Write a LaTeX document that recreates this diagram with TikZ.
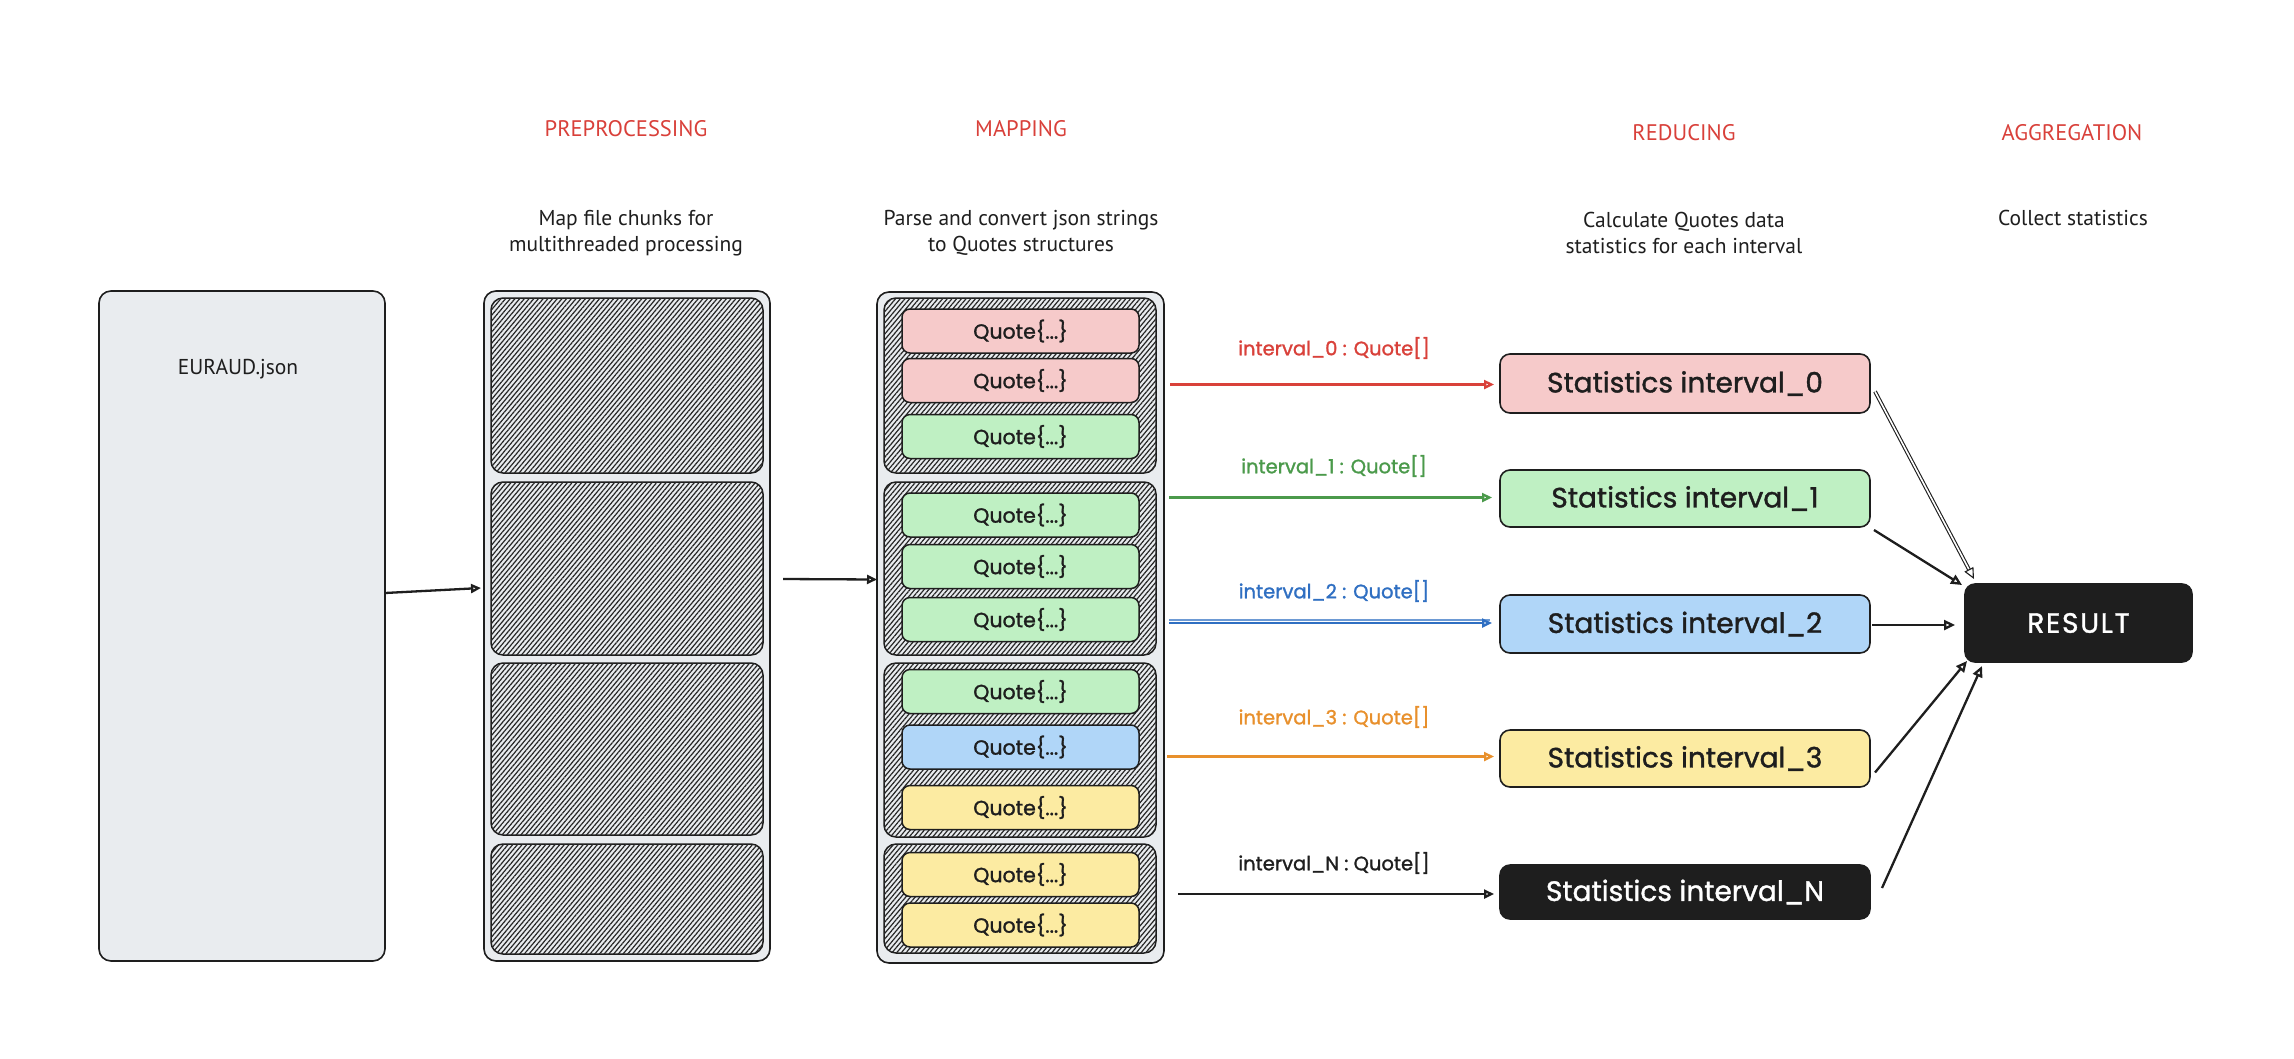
\documentclass[tikz,border=0pt]{standalone}
\usepackage{fontspec}
\setmainfont{PT Sans}
\newfontfamily\descfont{PT Sans}
\newfontfamily\handfont[FakeBold=1.3]{Poppins}
\newfontfamily\resfont[FakeBold=1.3,LetterSpace=6]{Poppins}
\usetikzlibrary{patterns.meta,arrows.meta,calc}
\definecolor{ink}{HTML}{1E1E1E}
\definecolor{boxgray}{HTML}{E9ECEF}
\definecolor{hatchc}{HTML}{262626}
\definecolor{hdrred}{HTML}{D9403A}
\definecolor{redfill}{HTML}{F6CACA}
\definecolor{greenfill}{HTML}{BFF0C3}
\definecolor{bluefill}{HTML}{B0D6F8}
\definecolor{yellowfill}{HTML}{FCEBA2}
\definecolor{redline}{HTML}{D9413A}
\definecolor{greenline}{HTML}{4B9A4B}
\definecolor{blueline}{HTML}{2F6FC2}
\definecolor{orangeline}{HTML}{E8902C}
\begin{document}
\begin{tikzpicture}[x=1pt,y=-1pt,
  every node/.style={inner sep=0pt, outer sep=0pt},
  panel/.style={draw=ink, line width=1.6pt, fill=boxgray, rounded corners=12pt},
  hatchbox/.style={draw=ink, line width=1.5pt, rounded corners=12pt, fill=boxgray,
     postaction={pattern={Lines[angle=50,distance=3.6pt,line width=1.2pt]}, pattern color=hatchc}},
  quotebox/.style={draw=ink, line width=1.5pt, rounded corners=8pt, minimum width=237pt,
     minimum height=44pt, font=\handfont\fontsize{20.5}{22}\selectfont, text=ink},
  statbox/.style={draw=ink, line width=1.6pt, rounded corners=10pt, minimum width=370pt,
     font=\handfont\fontsize{28}{30}\selectfont, text=ink},
  hdr/.style={font=\descfont\fontsize{22.5}{26}\selectfont, text=hdrred},
  desc/.style={font=\descfont\fontsize{21.5}{26}\selectfont, text=ink, align=center},
  lbl/.style={font=\handfont\fontsize{19.5}{22}\selectfont},
  flow/.style={line width=2.3pt, -{Triangle[open, length=10pt, width=9pt]}},
  agg/.style={draw=ink, line width=2.3pt, -{Triangle[open, length=11pt, width=10pt]}}
]
\useasboundingbox[fill=white] (0,0) rectangle (2294,1058);

% headers and descriptions
\node[hdr] (hpre) at (626,129) {PREPROCESSING};
\node[hdr] (hmap) at (1021,129) {MAPPING};
\node[hdr] (hred) at (1684,133) {REDUCING};
\node[hdr] (hagg) at (2072,133) {AGGREGATION};
\node[desc] (dpre) at (626,233) {Map file chunks for\\multithreaded processing};
\node[desc] (dmap) at (1021,233) {Parse and convert json strings\\to Quotes structures};
\node[desc] (dred) at (1684,233) {Calculate Quotes data\\statistics for each interval};
\node[desc, anchor=base] (dagg) at (2073,225) {Collect statistics};

% source file
\node[panel, minimum width=286pt, minimum height=670pt] (eur) at (242,626) {};
\node[desc] (eurlbl) at (238,369) {EURAUD.json};

% preprocessing
\node[panel, minimum width=286pt, minimum height=670pt] (pre) at (627,626) {};
\node[hatchbox, minimum width=272pt, minimum height=175pt] (c1) at (627,385.5) {};
\node[hatchbox, minimum width=272pt, minimum height=173pt] (c2) at (627,568.5) {};
\node[hatchbox, minimum width=272pt, minimum height=172pt] (c3) at (627,749) {};
\node[hatchbox, minimum width=272pt, minimum height=110pt] (c4) at (627,899) {};

% mapping
\node[panel, minimum width=287pt, minimum height=671pt] (map) at (1020.5,627.5) {};
\node[hatchbox, minimum width=272pt, minimum height=175pt] (g1) at (1020,385.5) {};
\node[hatchbox, minimum width=272pt, minimum height=173pt] (g2) at (1020,568.5) {};
\node[hatchbox, minimum width=272pt, minimum height=174pt] (g3) at (1020,750) {};
\node[hatchbox, minimum width=272pt, minimum height=109pt] (g4) at (1020,898.5) {};

\node[quotebox, fill=redfill] (q1) at (1020.5,331) {Quote\{...\}};
\node[quotebox, fill=redfill] (q2) at (1020.5,380.5) {Quote\{...\}};
\node[quotebox, fill=greenfill] (q3) at (1020.5,436.5) {Quote\{...\}};
\node[quotebox, fill=greenfill] (q4) at (1020.5,515) {Quote\{...\}};
\node[quotebox, fill=greenfill] (q5) at (1020.5,566.5) {Quote\{...\}};
\node[quotebox, fill=greenfill] (q6) at (1020.5,619.5) {Quote\{...\}};
\node[quotebox, fill=greenfill] (q7) at (1020.5,691.5) {Quote\{...\}};
\node[quotebox, fill=bluefill] (q8) at (1020.5,747) {Quote\{...\}};
\node[quotebox, fill=yellowfill] (q9) at (1020.5,807.5) {Quote\{...\}};
\node[quotebox, fill=yellowfill] (q10) at (1020.5,874.5) {Quote\{...\}};
\node[quotebox, fill=yellowfill] (q11) at (1020.5,925) {Quote\{...\}};

% reducing
\node[statbox, fill=redfill, minimum height=59pt] (s0) at (1685,383.5) {Statistics interval\_0};
\node[statbox, fill=greenfill, minimum height=57pt] (s1) at (1685,498.5) {Statistics interval\_1};
\node[statbox, fill=bluefill, minimum height=58pt] (s2) at (1685,624) {Statistics interval\_2};
\node[statbox, fill=yellowfill, minimum height=57pt] (s3) at (1685,758.5) {Statistics interval\_3};
\node[statbox, fill=ink, text=white, minimum height=54pt] (sn) at (1685,892) {Statistics interval\_N};

% result
\node[draw=ink, fill=ink, line width=1.6pt, rounded corners=10pt, minimum width=227pt,
  minimum height=78pt, text=white, font=\resfont\fontsize{28}{30}\selectfont] (res) at (2078.5,623) {RESULT};

% edge labels
\node[lbl, text=redline] (l0) at (1334,348) {interval\_0 : Quote[]};
\node[lbl, text=greenline] (l1) at (1334,466) {interval\_1 : Quote[]};
\node[lbl, text=blueline] (l2) at (1334,591) {interval\_2 : Quote[]};
\node[lbl, text=orangeline] (l3) at (1334,717) {interval\_3 : Quote[]};
\node[lbl, text=ink] (ln) at (1334,863) {interval\_N : Quote[]};

% connectors
\draw[flow, draw=ink] ($(eur.east)+(0,-33)$) -- ($(pre.west)+(-3,-38)$);
\draw[flow, draw=ink] ($(pre.east)+(13,-47)$) -- ($(map.west)+(0,-48)$);

\draw[flow, draw=redline] ($(map.east |- s0.west)+(6,1)$) -- ($(s0.west)+(-6,1)$);
\draw[flow, draw=greenline] ($(map.east |- s1.west)+(5,-1)$) -- ($(s1.west)+(-8,-1)$);
\draw[line width=1.2pt, draw=blueline!70] ($(map.east |- s2.west)+(5,-4)$) -- ($(s2.west)+(-10,-4)$);
\draw[flow, draw=blueline] ($(map.east |- s2.west)+(5,-1)$) -- ($(s2.west)+(-8,-1)$);
\draw[flow, draw=orangeline] ($(map.east |- s3.west)+(3,-2)$) -- ($(s3.west)+(-6,-2)$);
\draw[flow, draw=ink] ($(map.east |- sn.west)+(14,2)$) -- ($(sn.west)+(-6,2)$);

\draw[agg, double=white, double distance=1.6pt, line width=1.1pt] ($(s0.east)+(5,8)$) -- ($(res.north west)+(9,-5)$);
\draw[agg] ($(s1.south east)+(4,3)$) -- ($(res.north west)+(-3,1)$);
\draw[agg] ($(s2.east)+(2,1)$) -- ($(res.west)+(-10,2)$);
\draw[agg] ($(s3.east)+(5,14)$) -- ($(res.south west)+(2,-1)$);
\draw[agg] ($(sn.east)+(12,-4)$) -- ($(res.south west)+(17,4)$);
\end{tikzpicture}
\end{document}
